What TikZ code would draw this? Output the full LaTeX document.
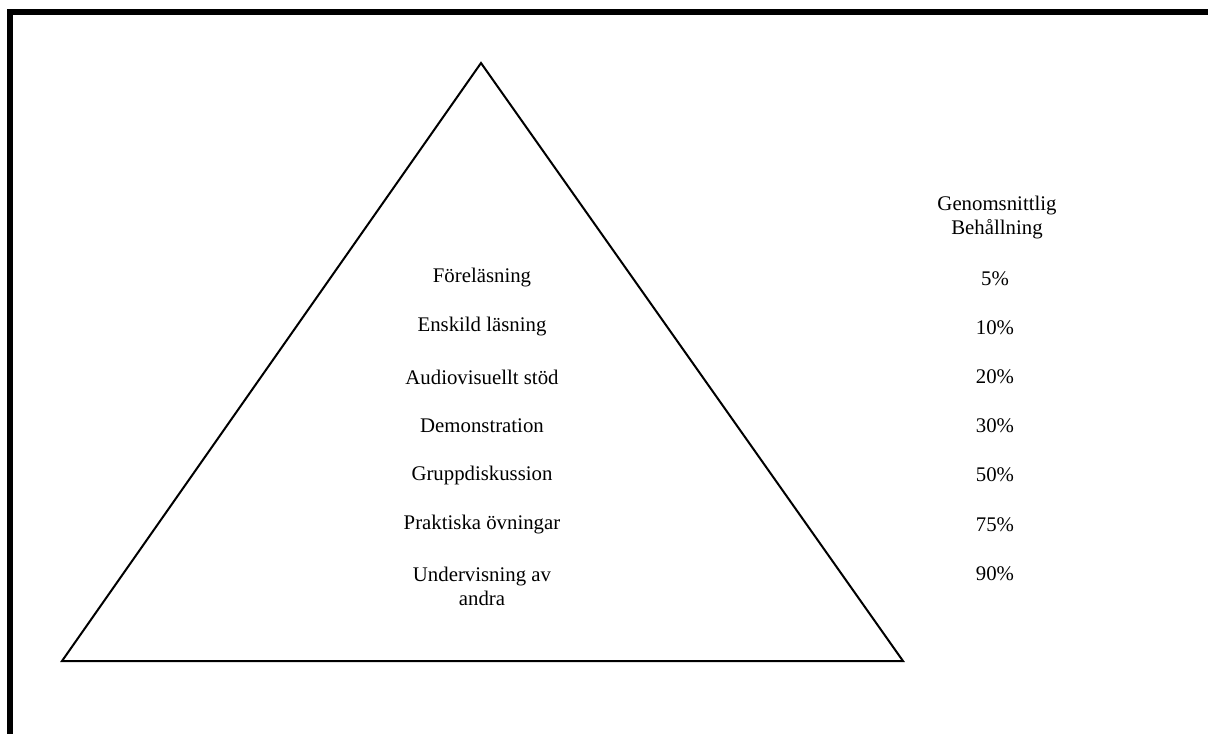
\documentclass[tikz,border=0pt]{standalone}
\usepackage{fontspec}
\setmainfont{Liberation Serif}
\begin{document}
\begin{tikzpicture}[x=0.75pt,y=-0.75pt,
  lbl/.style={font=\fontsize{15.6}{18}\selectfont, inner sep=0pt, align=center},
  frame/.style={line width=4.5pt, line cap=rect},
  tri/.style={line width=1.5pt, line join=miter}]
\useasboundingbox (0,0) rectangle (1208,733);
\clip (0,0) rectangle (1208,733);
\draw[frame] (10,760) -- (10,12) -- (1230,12);
\coordinate (apex) at (481,63);
\coordinate (bl) at (62,661);
\coordinate (br) at (903,661);
\draw[tri] (apex) -- (bl) -- (br) -- cycle;
\node[lbl] (l1) at (482,278) {Föreläsning};
\node[lbl] (l2) at (482,327) {Enskild läsning};
\node[lbl] (l3) at (482,377) {Audiovisuellt stöd};
\node[lbl] (l4) at (482,426) {Demonstration};
\node[lbl] (l5) at (482,475) {Gruppdiskussion};
\node[lbl] (l6) at (482,525) {Praktiska övningar};
\node[lbl] (l7) at (482,586) {Undervisning av\\andra};
\node[lbl] (h) at (997,218) {Genomsnittlig\\Behållning};
\node[lbl] (p1) at (995,279) {5\%};
\node[lbl] (p2) at (995,328) {10\%};
\node[lbl] (p3) at (995,377) {20\%};
\node[lbl] (p4) at (995,426) {30\%};
\node[lbl] (p5) at (995,475) {50\%};
\node[lbl] (p6) at (995,525) {75\%};
\node[lbl] (p7) at (995,574) {90\%};
\end{tikzpicture}
\end{document}
